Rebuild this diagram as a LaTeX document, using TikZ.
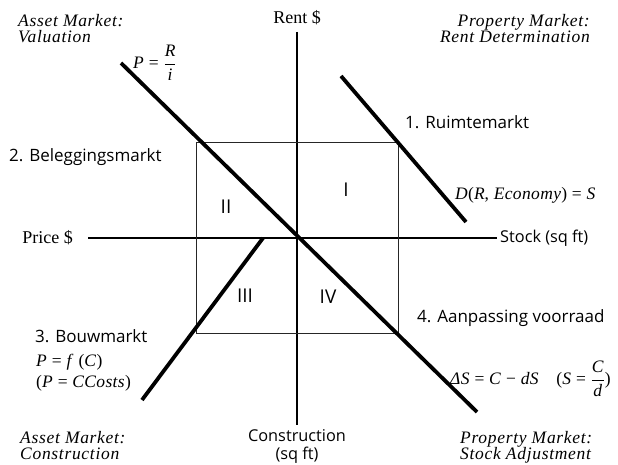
\documentclass[tikz,border=0pt]{standalone}
\usepackage{amsmath}
\usepackage{fontspec}
\setmainfont{Liberation Serif}
\setsansfont{Open Sans}
\usetikzlibrary{positioning,calc}
\newcommand\vr[1]{\textit{#1}}
\tikzset{
  axis/.style={draw=black, line width=1.5pt},
  frame/.style={draw=black!85, line width=1pt},
  curve/.style={draw=black, line width=3.8pt},
  mkt/.style={font=\sffamily\fontsize{17}{20}\selectfont, inner sep=0pt},
  quad/.style={font=\sffamily\fontsize{19}{22}\selectfont, inner sep=0pt},
  ttl/.style={font=\itshape\fontsize{17.5}{16.5}\selectfont\addfontfeatures{LetterSpace=4}, align=left, inner sep=0pt},
  eq/.style={font=\fontsize{17.5}{21}\selectfont\addfontfeatures{LetterSpace=2}, inner sep=0pt},
  axlbl/.style={font=\fontsize{18}{20}\selectfont, inner sep=0pt},
  axsans/.style={font=\sffamily\fontsize{16.3}{18}\selectfont, inner sep=0pt}
}
\begin{document}
\begin{tikzpicture}[x=1pt, y=-1pt]
  \useasboundingbox (0,0) rectangle (618,465);
  % assen
  \coordinate (top) at (297,32);
  \coordinate (bot) at (297,425);
  \coordinate (left) at (88,238);
  \coordinate (right) at (497,238);
  \coordinate (O) at (297,238);
  \draw[axis] (top) -- (bot);
  \draw[axis] (left) -- (right);
  \node[axlbl, above=7pt of top] (rent) {Rent \$};
  \node[axlbl, left=15pt of left] (price) {Price \$};
  \node[axsans, right=3pt of right] (stock) {Stock (sq ft)};
  \node[axsans, below=4pt of bot, align=center] (constr) {Construction\\(sq ft)};
  % rechthoek
  \coordinate (tl) at (196,143);
  \coordinate (br) at (398,333);
  \draw[frame] (tl) rectangle (br);
  % marktlijnen
  \coordinate (IIa) at (121,63);
  \coordinate (IIb) at (477,412);
  \coordinate (Ia) at (341,76);
  \coordinate (Ib) at (466,222);
  \coordinate (IIIa) at (263,238);
  \coordinate (IIIb) at (142,400);
  \draw[curve] (IIa) -- (IIb);
  \draw[curve] (Ia) -- (Ib);
  \draw[curve] (IIIa) -- (IIIb);
  % kwadranten
  \node[quad] (qI) at (346,190) {I};
  \node[quad] (qII) at (226,207) {II};
  \node[quad] (qIII) at (245,296) {III};
  \node[quad] (qIV) at (328,297) {IV};
  % markten
  \node[mkt, anchor=west] (m1) at (405,122) {1. Ruimtemarkt};
  \node[mkt, anchor=west] (m2) at (9,157) {2. Beleggingsmarkt};
  \node[mkt, anchor=west] (m3) at (35,336) {3. Bouwmarkt};
  \node[mkt, anchor=west] (m4) at (417,318) {4. Aanpassing voorraad};
  % titels
  \node[ttl, anchor=north west] (tAV) at (18,14) {Asset Market:\\Valuation};
  \node[ttl, anchor=north east, align=right] (tPR) at (590,14) {Property Market:\\Rent Determination};
  \node[ttl, anchor=north west] (tAC) at (20,431) {Asset Market:\\Construction};
  \node[ttl, anchor=north west] (tPS) at (460,431) {Property Market:\\Stock Adjustment};
  % vergelijkingen
  \node[eq, anchor=west] (eqII) at (133,63) {\vr{P} = $\dfrac{\vr{R}}{\vr{i}}$};
  \node[eq, anchor=west] (eqI) at (455,195) {\vr{D}(\vr{R}, \vr{Economy}) = \vr{S}};
  \node[eq, anchor=west, align=left] (eqIII) at (36,373) {\vr{P} = \vr{f} (\vr{C})\\(\vr{P} = \vr{CCosts})};
  \node[eq, anchor=west] (eqIV) at (450,379) {\vr{ΔS} = \vr{C} − \vr{dS}\quad(\vr{S} = $\dfrac{\vr{C}}{\vr{d}}$)};
\end{tikzpicture}
\end{document}
